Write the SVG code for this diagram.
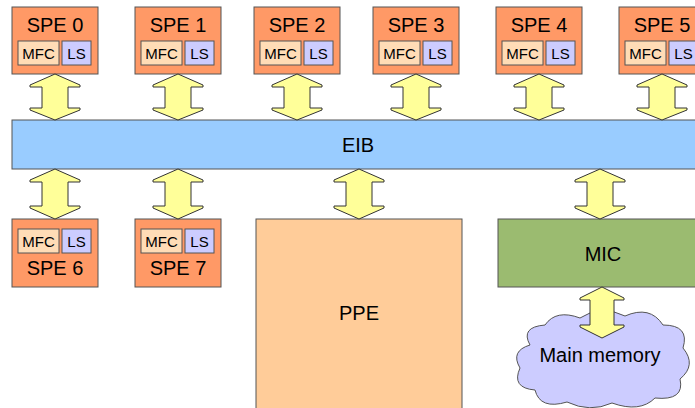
<svg xmlns="http://www.w3.org/2000/svg" width="695" height="408" viewBox="0 0 695 408">
  <style>
    text { font-family: "Liberation Sans", Arial, sans-serif; fill: #000; text-anchor: middle; }
    .lbl { font-size: 20px; }
    .sm { font-size: 15px; }
    .spe { fill: #ff9966; stroke: #555; stroke-width: 1; }
    .mfc { fill: #ffdcb6; stroke: #555; stroke-width: 1; }
    .ls { fill: #ccccff; stroke: #555; stroke-width: 1; }
    .bus { fill: #99ccff; stroke: #555; stroke-width: 1; }
    .ppe { fill: #ffcc99; stroke: #555; stroke-width: 1; }
    .mic { fill: #9bbb70; stroke: #555; stroke-width: 1; }
    .mem { fill: #ccccff; stroke: #555; stroke-width: 1; }
    .arr { fill: #ffff99; stroke: #333; stroke-width: 1; stroke-linejoin: miter; }
  </style>

  <!-- element interconnect bus -->
  <g id="eib">
    <rect class="bus" x="12" y="120" width="700" height="49"/>
    <text class="lbl" x="358" y="152">EIB</text>
  </g>

  <!-- upper row of SPEs -->
  <g id="spe0">
    <rect class="spe" x="12" y="7" width="86" height="67"/>
    <text class="lbl" x="55" y="32">SPE 0</text>
    <rect class="mfc" x="18" y="41" width="41" height="24"/>
    <rect class="ls" x="62" y="41" width="29" height="24"/>
    <text class="sm" x="38.5" y="59">MFC</text>
    <text class="sm" x="76.5" y="59">LS</text>
  </g>
  <g id="spe1">
    <rect class="spe" x="135" y="7" width="86" height="67"/>
    <text class="lbl" x="178" y="32">SPE 1</text>
    <rect class="mfc" x="141" y="41" width="41" height="24"/>
    <rect class="ls" x="185" y="41" width="29" height="24"/>
    <text class="sm" x="161.5" y="59">MFC</text>
    <text class="sm" x="199.5" y="59">LS</text>
  </g>
  <g id="spe2">
    <rect class="spe" x="254" y="7" width="86" height="67"/>
    <text class="lbl" x="297" y="32">SPE 2</text>
    <rect class="mfc" x="260" y="41" width="41" height="24"/>
    <rect class="ls" x="304" y="41" width="29" height="24"/>
    <text class="sm" x="280.5" y="59">MFC</text>
    <text class="sm" x="318.5" y="59">LS</text>
  </g>
  <g id="spe3">
    <rect class="spe" x="373" y="7" width="86" height="67"/>
    <text class="lbl" x="416" y="32">SPE 3</text>
    <rect class="mfc" x="379" y="41" width="41" height="24"/>
    <rect class="ls" x="423" y="41" width="29" height="24"/>
    <text class="sm" x="399.5" y="59">MFC</text>
    <text class="sm" x="437.5" y="59">LS</text>
  </g>
  <g id="spe4">
    <rect class="spe" x="496" y="7" width="86" height="67"/>
    <text class="lbl" x="539" y="32">SPE 4</text>
    <rect class="mfc" x="502" y="41" width="41" height="24"/>
    <rect class="ls" x="546" y="41" width="29" height="24"/>
    <text class="sm" x="522.5" y="59">MFC</text>
    <text class="sm" x="560.5" y="59">LS</text>
  </g>
  <g id="spe5">
    <rect class="spe" x="619" y="7" width="86" height="67"/>
    <text class="lbl" x="662" y="32">SPE 5</text>
    <rect class="mfc" x="625" y="41" width="41" height="24"/>
    <rect class="ls" x="669" y="41" width="29" height="24"/>
    <text class="sm" x="645.5" y="59">MFC</text>
    <text class="sm" x="683.5" y="59">LS</text>
  </g>

  <!-- lower row of SPEs -->
  <g id="spe6">
    <rect class="spe" x="12" y="219" width="86" height="68"/>
    <rect class="mfc" x="18" y="229" width="41" height="24"/>
    <rect class="ls" x="62" y="229" width="29" height="24"/>
    <text class="sm" x="38.5" y="247">MFC</text>
    <text class="sm" x="76.5" y="247">LS</text>
    <text class="lbl" x="55" y="275">SPE 6</text>
  </g>
  <g id="spe7">
    <rect class="spe" x="135" y="219" width="86" height="68"/>
    <rect class="mfc" x="141" y="229" width="41" height="24"/>
    <rect class="ls" x="185" y="229" width="29" height="24"/>
    <text class="sm" x="161.5" y="247">MFC</text>
    <text class="sm" x="199.5" y="247">LS</text>
    <text class="lbl" x="178" y="275">SPE 7</text>
  </g>

  <!-- power processor element -->
  <g id="ppe">
    <rect class="ppe" x="256" y="219" width="206" height="195"/>
    <text class="lbl" x="359" y="320">PPE</text>
  </g>

  <!-- memory interface controller -->
  <g id="mic">
    <rect class="mic" x="498" y="219" width="210" height="68"/>
    <text class="lbl" x="603" y="261">MIC</text>
  </g>

  <!-- main memory -->
  <g id="memory">
    <path class="mem" d="M530 345 Q520 327 545 325 Q556 309 580 318 Q601 304 625 316 Q650 305 663 325 Q690 325 683 348 Q697 365 680 379 Q685 401 655 398 Q640 413 612 403 Q590 413 567 402 Q540 410 535 390 Q511 388 520 368 Q510 351 530 345 Z"/>
    <text class="lbl" x="600" y="362">Main memory</text>
  </g>

  <!-- two-way links -->
  <g id="links">
    <!-- upper SPEs to EIB -->
    <polygon class="arr" points="55,74 80,85 80,87 68,87 68,108 80,108 80,110 55,120 30,110 30,108 42,108 42,87 30,87 30,85"/>
    <polygon class="arr" points="178,74 203,85 203,87 191,87 191,108 203,108 203,110 178,120 153,110 153,108 165,108 165,87 153,87 153,85"/>
    <polygon class="arr" points="297,74 322,85 322,87 310,87 310,108 322,108 322,110 297,120 272,110 272,108 284,108 284,87 272,87 272,85"/>
    <polygon class="arr" points="416,74 441,85 441,87 429,87 429,108 441,108 441,110 416,120 391,110 391,108 403,108 403,87 391,87 391,85"/>
    <polygon class="arr" points="539,74 564,85 564,87 552,87 552,108 564,108 564,110 539,120 514,110 514,108 526,108 526,87 514,87 514,85"/>
    <polygon class="arr" points="662,74 687,85 687,87 675,87 675,108 687,108 687,110 662,120 637,110 637,108 649,108 649,87 637,87 637,85"/>
    <!-- EIB to lower units -->
    <polygon class="arr" points="55,169 80,180 80,182 68,182 68,206 80,206 80,208 55,219 30,208 30,206 42,206 42,182 30,182 30,180"/>
    <polygon class="arr" points="178,169 203,180 203,182 191,182 191,206 203,206 203,208 178,219 153,208 153,206 165,206 165,182 153,182 153,180"/>
    <polygon class="arr" points="359,169 384,180 384,182 372,182 372,206 384,206 384,208 359,219 334,208 334,206 346,206 346,182 334,182 334,180"/>
    <polygon class="arr" points="600,169 625,180 625,182 613,182 613,206 625,206 625,208 600,219 575,208 575,206 587,206 587,182 575,182 575,180"/>
    <!-- MIC to main memory -->
    <polygon class="arr" points="602,287 624,298 624,300 614,300 614,325 624,325 624,327 602,338 580,327 580,325 590,325 590,300 580,300 580,298"/>
  </g>
</svg>
